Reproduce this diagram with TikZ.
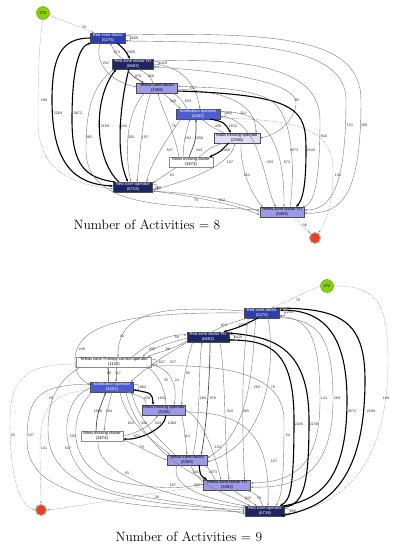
\documentclass[tikz,border=0pt]{standalone}
\usepackage{fontspec}
\newfontfamily\nf{Liberation Sans}
\usetikzlibrary{arrows.meta,calc}
\definecolor{cNavy}{HTML}{1D2662}
\definecolor{cBlue}{HTML}{2C40A8}
\definecolor{cNotif}{HTML}{4C5CD2}
\definecolor{cPurp}{HTML}{9C9AE4}
\definecolor{cLav}{HTML}{DEDCF6}
\definecolor{cGreen}{HTML}{8BD000}
\definecolor{cRed}{HTML}{E8421E}
\definecolor{cEdge}{HTML}{7A7A7A}
\tikzset{
 bx/.style={rectangle, draw=black!70, line width=0.3pt, minimum height=9.6pt, inner xsep=1pt, inner ysep=0.3pt, align=center, font=\nf\fontsize{4.1}{4.5}\selectfont},
 nNavy/.style={bx, fill=cNavy, text=white},
 nBlue/.style={bx, fill=cBlue, text=white},
 nNotif/.style={bx, fill=cNotif, text=white},
 nPurp/.style={bx, fill=cPurp, text=black},
 nLav/.style={bx, fill=cLav, text=black},
 nWhite/.style={bx, fill=white, draw=black!45, text=black},
 startc/.style={circle, fill=cGreen, draw=green!40!black!70, line width=0.4pt, minimum size=13pt, inner sep=0pt, font=\nf\fontsize{3.9}{4}\selectfont},
 endc/.style={circle, fill=cRed, draw=black!30, line width=1pt, minimum size=11pt, inner sep=0pt},
 eg/.style={draw=cEdge, line width=0.4pt, -{Latex[length=2.4pt,width=1.8pt]}},
 em/.style={draw=black!70, line width=0.7pt, -{Latex[length=2.6pt,width=2.1pt]}},
 ek/.style={draw=black, line width=1.1pt, -{Latex[length=3pt,width=2.6pt]}},
 ed/.style={draw=black!45, line width=0.4pt, dash pattern=on 1pt off 1pt, -{Latex[length=2.4pt,width=1.8pt]}},
 lbl/.style={font=\nf\fontsize{3.6}{4}\selectfont, inner sep=0pt, text=black!85},
 ttl/.style={font=\fontsize{13.5}{16}\selectfont, inner sep=0pt},
}
\begin{document}
\begin{tikzpicture}[x=1pt,y=-1pt]
\useasboundingbox (0,0) rectangle (401,550);
%================ TOP GRAPH ================
\node[startc] (s1) at (43,13) {272};
\node[nBlue, minimum width=35pt] (rzd1) at (108,38) {Red zone doctor\\(5275)};
\node[nNavy, minimum width=41pt] (fd1) at (133,64) {Red zone doctor FD\\(6683)};
\node[nPurp, minimum width=41pt] (yzd1) at (157,88) {Yellow zone doctor\\(3359)};
\node[nNotif, minimum width=44pt] (nt1) at (198,114) {Notification operator\\(4452)};
\node[nLav, minimum width=46pt] (mmo1) at (237,138) {Mass missing operator\\(2336)};
\node[nWhite, minimum width=44pt] (mmd1) at (191,162) {Mass missing doctor\\(1674)};
\node[nNavy, minimum width=39pt] (rzo1) at (133,187) {Red zone operator\\(6719)};
\node[nPurp, minimum width=44pt] (yfd1) at (282,212) {Yellow zone doctor FD\\(3493)};
\node[endc] (e1) at (315,238) {};
\node[ttl] (t1) at (147,225) {Number of Activities = 8};

% start / end
\draw[ed] (s1) .. controls (62,20) and (80,27) .. ($(rzd1.north west)+(4,0)$);
\draw[ed] (s1.south) .. controls (39,40) and (38,80) .. (38,120) .. controls (38,170) and (70,184) .. ($(rzo1.west)+(0,2)$);
\draw[ed] ($(nt1.east)+(0,4)$) .. controls (290,120) and (333,125) .. (333,170) .. controls (333,205) and (326,222) .. (e1);
\draw[ed] ($(yfd1.south)+(12,0)$) .. controls (302,225) .. (e1);
% self loops
\draw[eg] ($(rzd1.east)+(0,-2)$) .. controls +(7,-3) and +(7,3) .. ($(rzd1.east)+(0,2)$);
\draw[eg] ($(fd1.east)+(0,-2)$) .. controls +(7,-3) and +(7,3) .. ($(fd1.east)+(0,2)$);
\draw[eg] ($(nt1.east)+(0,-2)$) .. controls +(7,-3) and +(7,3) .. ($(nt1.east)+(0,2)$);
\draw[eg] ($(rzo1.east)+(0,-2)$) .. controls +(7,-3) and +(7,3) .. ($(rzo1.east)+(0,2)$);
% red zone
\draw[ek] (rzd1.west) .. controls (62,38) and (52,55) .. (52,100) .. controls (52,165) and (75,184) .. ($(rzo1.west)+(0,-1)$);
\draw[ek] ($(rzo1.north west)+(2,0)$) .. controls (85,178) and (72,165) .. (72,120) .. controls (72,65) and (80,46) .. ($(rzd1.south west)+(1,0)$);
\draw[eg] ($(fd1.north)+(-10,0)$) .. controls (116,54) .. ($(rzd1.south)+(2,0)$);
\draw[ek] ($(rzd1.south)+(9,0)$) .. controls (125,50) .. ($(fd1.north)+(-3,0)$);
\draw[ek] ($(fd1.south)+(-4,0)$) .. controls (122,95) and (114,150) .. ($(rzo1.north)+(-5,0)$);
\draw[ek] ($(rzo1.north)+(-14,0)$) .. controls (95,160) and (92,100) .. ($(fd1.south west)+(4,0)$);
\draw[eg] ($(rzd1.south)+(-8,0)$) .. controls (96,55) and (100,78) .. ($(yzd1.west)+(0,-1)$);
\draw[eg] ($(fd1.south west)+(2,0)$) .. controls (92,85) and (86,110) .. (86,150) .. controls (86,212) and (180,205) .. ($(yfd1.west)+(0,-2)$);
\draw[em] ($(fd1.south)+(-6,0)$) .. controls (132,76) .. ($(yzd1.north)+(-13,0)$);
\draw[eg] ($(yzd1.north)+(-4,0)$) .. controls (150,76) .. ($(fd1.south)+(6,0)$);
\draw[eg] ($(yzd1.south)+(-12,0)$) .. controls (127,110) and (124,150) .. ($(rzo1.north)+(-2,0)$);
\draw[eg] ($(yzd1.south)+(-6,0)$) .. controls (142,115) and (140,155) .. ($(rzo1.north)+(4,0)$);
\draw[eg] (fd1.east) .. controls (182,66) and (196,85) .. ($(nt1.north)+(2,0)$);
\draw[eg] ($(fd1.east)+(0,3)$) .. controls (240,72) and (300,85) .. (296,105) .. controls (292,125) and (275,135) .. (mmo1.east);
\draw[eg] ($(fd1.east)+(0,-3)$) .. controls (250,58) and (320,68) .. (320,120) .. controls (320,190) and (312,205) .. ($(yfd1.north east)+(-2,0)$);
\draw[eg] ($(rzd1.east)+(0,3)$) .. controls (250,42) and (346,45) .. (346,100) .. controls (346,190) and (330,210) .. ($(yfd1.east)+(0,-2)$);
\draw[eg] ($(rzd1.east)+(0,-3)$) .. controls (280,32) and (361,38) .. (361,100) .. controls (361,200) and (340,214) .. ($(yfd1.east)+(0,1)$);
% middle
\draw[eg] ($(yzd1.south)+(6,0)$) .. controls (172,100) .. ($(nt1.north west)+(5,0)$);
\draw[eg] ($(nt1.north west)+(11,0)$) .. controls (182,100) .. ($(yzd1.south east)+(-4,0)$);
\draw[eg] ($(mmo1.north)+(-13,0)$) .. controls (210,126) .. ($(nt1.south)+(4,0)$);
\draw[ek] ($(nt1.south)+(12,0)$) .. controls (224,122) .. ($(mmo1.north)+(-6,0)$);
\draw[eg] ($(mmd1.north)+(8,0)$) .. controls (210,148) .. ($(mmo1.south)+(-14,0)$);
\draw[ek] ($(mmo1.south)+(-8,0)$) .. controls (220,152) .. ($(mmd1.north east)+(-4,0)$);
\draw[eg] ($(mmd1.north)+(-8,0)$) .. controls (184,140) .. ($(nt1.south)+(-8,0)$);
\draw[em] ($(mmd1.north)+(-2,0)$) .. controls (196,140) .. ($(nt1.south)+(-2,0)$);
\draw[eg] ($(mmd1.north)+(-12,0)$) .. controls (174,130) and (162,110) .. ($(yzd1.south)+(1,0)$);
\draw[eg] ($(nt1.south)+(-17,0)$) .. controls (166,140) and (150,165) .. ($(rzo1.north east)+(-6,0)$);
\draw[eg] ($(mmd1.south)+(-14,0)$) .. controls (165,175) .. ($(rzo1.east)+(0,-4)$);
\draw[eg] ($(mmo1.south)+(-2,0)$) .. controls (232,165) and (190,180) .. ($(rzo1.east)+(0,3)$);
\draw[eg] ($(mmo1.south)+(4,0)$) .. controls (240,170) and (252,195) .. ($(yfd1.north west)+(3,0)$);
\draw[eg] ($(yzd1.east)+(0,1)$) .. controls (230,92) and (255,105) .. ($(mmo1.north east)+(-4,0)$);
\draw[eg] ($(nt1.east)+(0,2)$) .. controls (262,120) and (264,185) .. ($(yfd1.north)+(-6,0)$);
\draw[eg] ($(nt1.east)+(0,-2)$) .. controls (284,108) and (284,180) .. ($(yfd1.north)+(2,0)$);
\draw[ek] ($(yzd1.east)+(0,3)$) .. controls (300,95) and (306,110) .. (306,150) .. controls (306,190) and (302,200) .. ($(yfd1.north)+(14,0)$);
\draw[eg] ($(yfd1.north)+(8,0)$) .. controls (294,180) and (296,115) .. (270,100) .. controls (244,86) and (200,88) .. ($(yzd1.east)+(0,-2)$);
\draw[eg] ($(rzo1.south east)+(0,-1)$) .. controls (200,197) and (240,206) .. ($(yfd1.west)+(0,3)$);
\draw[eg] ($(yfd1.west)+(0,0)$) .. controls (240,202) and (190,192) .. ($(rzo1.east)+(0,4.5)$);
% labels top
\node[lbl] (a01) at (84,27) {76};
\node[lbl] (a02) at (44,100) {189};
\node[lbl] (a03) at (134,38) {2269};
\node[lbl] (a04) at (58,113) {2269};
\node[lbl] (a05) at (78,113) {3672};
\node[lbl] (a06) at (117,52) {674};
\node[lbl] (a07) at (131,52) {2305};
\node[lbl] (a08) at (163,63) {6429};
\node[lbl] (a09) at (106,63) {252};
\node[lbl] (a10) at (138,76) {976};
\node[lbl] (a11) at (151,76) {266};
\node[lbl] (a12) at (105,126) {2158};
\node[lbl] (a13) at (123,126) {2245};
\node[lbl] (a14) at (89,137) {465};
\node[lbl] (a15) at (131,137) {205};
\node[lbl] (a16) at (145,137) {197};
\node[lbl] (a17) at (193,88) {537};
\node[lbl] (a18) at (173,101) {340};
\node[lbl] (a19) at (188,101) {633};
\node[lbl] (a20) at (229,113) {883};
\node[lbl] (a21) at (218,126) {439};
\node[lbl] (a22) at (233,126) {1632};
\node[lbl] (a23) at (199,150) {343};
\node[lbl] (a24) at (226,150) {1466};
\node[lbl] (a25) at (188,138) {104};
\node[lbl] (a26) at (199,138) {1058};
\node[lbl] (a27) at (174,126) {75};
\node[lbl] (a28) at (170,150) {547};
\node[lbl] (a29) at (172,175) {63};
\node[lbl] (a30) at (230,162) {107};
\node[lbl] (a31) at (247,175) {152};
\node[lbl] (a32) at (243,113) {114};
\node[lbl] (a33) at (270,162) {293};
\node[lbl] (a34) at (287,162) {872};
\node[lbl] (a35) at (294,150) {1073};
\node[lbl] (a36) at (311,150) {2415};
\node[lbl] (a37) at (324,136) {910};
\node[lbl] (a38) at (350,125) {131};
\node[lbl] (a39) at (364,125) {269};
\node[lbl] (a40) at (338,175) {131};
\node[lbl] (a41) at (305,225) {36};
\node[lbl] (a42) at (196,200) {79};
\node[lbl] (a43) at (222,200) {642};
\node[lbl] (a44) at (158,188) {890};
\node[lbl] (a45) at (297,100) {95};

%================ BOTTOM GRAPH ================
\node[startc] (s2) at (327,286) {272};
\node[nBlue, minimum width=35pt] (rzd2) at (262,313) {Red zone doctor\\(5275)};
\node[nNavy, minimum width=42pt] (fd2) at (208,337) {Red zone doctor FD\\(6683)};
\node[nWhite, minimum width=75pt] (tc2) at (114,362) {Yellow zone Therapy control operator\\(1120)};
\node[nNotif, minimum width=43pt] (nt2) at (112,387) {Notification operator\\(4452)};
\node[nPurp, minimum width=42pt] (mmo2) at (164,410) {Mass missing operator\\(2336)};
\node[nWhite, minimum width=42pt] (mmd2) at (102,436) {Mass missing doctor\\(1674)};
\node[nPurp, minimum width=40pt] (yzd2) at (187,460) {Yellow zone doctor\\(3359)};
\node[nPurp, minimum width=47pt] (yfd2) at (227,485) {Yellow zone doctor FD\\(3493)};
\node[nNavy, minimum width=39pt] (rzo2) at (265,511) {Red zone operator\\(6719)};
\node[endc] (e2) at (41,510) {};
\node[ttl] (t2) at (189,537) {Number of Activities = 9};

% start / end
\draw[ed] (s2.west) .. controls (305,292) and (290,300) .. ($(rzd2.north east)+(-8,0)$);
\draw[ed] (s2.east) .. controls (375,286) and (388,300) .. (388,360) .. controls (388,470) and (340,505) .. ($(rzo2.east)+(0,3.5)$);
\draw[ed] ($(tc2.west)+(0,2)$) .. controls (30,364) and (10,375) .. (10,420) .. controls (10,480) and (20,505) .. (e2.west);
\draw[ed] ($(nt2.west)+(0,3)$) .. controls (50,392) and (40,410) .. (40,450) .. controls (40,480) and (41,490) .. (e2.north);
\draw[ed] ($(yfd2.west)+(0,2)$) .. controls (150,492) and (90,505) .. (e2.east);
% self loops
\draw[eg] ($(rzd2.east)+(0,-2)$) .. controls +(7,-3) and +(7,3) .. ($(rzd2.east)+(0,2)$);
\draw[eg] ($(fd2.east)+(0,-2)$) .. controls +(7,-3) and +(7,3) .. ($(fd2.east)+(0,2)$);
\draw[eg] ($(tc2.east)+(0,-2)$) .. controls +(7,-3) and +(7,3) .. ($(tc2.east)+(0,2)$);
\draw[eg] ($(nt2.east)+(0,-2)$) .. controls +(7,-3) and +(7,3) .. ($(nt2.east)+(0,2)$);
\draw[eg] ($(rzo2.east)+(0,-2)$) .. controls +(7,-3) and +(7,3) .. ($(rzo2.east)+(0,2)$);
% red zone
\draw[eg] ($(fd2.north)+(4,0)$) .. controls (225,325) .. ($(rzd2.south west)+(3,0)$);
\draw[ek] ($(rzd2.south)+(-4,0)$) .. controls (240,327) .. ($(fd2.north east)+(-6,0)$);
\draw[ek] ($(rzd2.north east)+(-4,0)$) .. controls (340,308) and (365,320) .. (365,380) .. controls (365,490) and (320,508) .. ($(rzo2.south east)+(-4,0)$);
\draw[ek] ($(rzo2.north east)+(-2,0)$) .. controls (320,500) and (347,480) .. (347,400) .. controls (347,330) and (320,310) .. ($(rzd2.north east)+(0,2)$);
\draw[eg] ($(rzd2.east)+(0,3.5)$) .. controls (305,318) and (320,330) .. (320,400) .. controls (320,470) and (290,482) .. ($(yfd2.east)+(0,-2)$);
\draw[eg] ($(rzd2.east)+(0,4.5)$) .. controls (318,320) and (333,335) .. (333,400) .. controls (333,480) and (290,488) .. ($(yfd2.east)+(0,2)$);
\draw[ek] ($(fd2.east)+(0,3)$) .. controls (270,340) and (294,350) .. (294,420) .. controls (294,490) and (290,500) .. ($(rzo2.north east)+(-5,0)$);
\draw[ek] ($(rzo2.east)+(0,-4)$) .. controls (305,505) and (309,480) .. (309,420) .. controls (309,345) and (270,337) .. ($(fd2.north east)+(0,1)$);
\draw[eg] ($(rzd2.south)+(-6,0)$) .. controls (252,350) and (255,430) .. ($(yzd2.east)+(0,-2)$);
\draw[eg] ($(rzd2.south)+(6,0)$) .. controls (274,350) and (275,440) .. ($(yzd2.east)+(0,2)$);
\draw[eg] ($(fd2.south)+(12,0)$) .. controls (226,380) and (224,440) .. ($(yfd2.north)+(2,0)$);
\draw[eg] ($(rzd2.south west)+(4,0)$) .. controls (240,370) and (243,450) .. ($(yfd2.north east)+(-6,0)$);
\draw[eg] ($(yzd2.north)+(6,0)$) .. controls (201,420) and (198,370) .. ($(fd2.south)+(-6,0)$);
\draw[em] ($(fd2.south)+(2,0)$) .. controls (210,380) and (206,430) .. ($(yzd2.north east)+(-6,0)$);
\draw[eg] ($(fd2.south west)+(6,0)$) .. controls (185,365) and (182,390) .. ($(mmo2.north east)+(-4,0)$);
\draw[eg] ($(fd2.south west)+(1,0)$) .. controls (170,352) and (145,368) .. ($(nt2.north east)+(-3,0)$);
\draw[eg] ($(tc2.north)+(18,0)$) .. controls (150,342) and (170,334) .. ($(fd2.west)+(0,-2)$);
\draw[eg] ($(fd2.west)+(0,1)$) .. controls (170,343) and (150,348) .. ($(tc2.north east)+(-9,0)$);
\draw[eg] ($(fd2.west)+(0,4)$) .. controls (172,350) and (155,353) .. ($(tc2.north east)+(-4,0)$);
\draw[eg] ($(rzd2.west)+(0,-2)$) .. controls (170,306) and (118,308) .. ($(tc2.north)+(4,0)$);
\draw[eg] ($(rzd2.west)+(0,0)$) .. controls (150,312) and (75,318) .. (75,360) .. controls (75,375) and (82,380) .. ($(nt2.west)+(0,-2)$);
\draw[eg] ($(tc2.east)+(0,4)$) .. controls (200,365) and (284,365) .. (284,420) .. controls (284,480) and (282,495) .. ($(rzo2.north east)+(-9,0)$);
% middle
\draw[eg] ($(nt2.north)+(-4,0)$) .. controls (108,375) .. ($(tc2.south)+(-6,0)$);
\draw[eg] ($(tc2.south)+(2,0)$) .. controls (116,375) .. ($(nt2.north)+(4,0)$);
\draw[eg] ($(mmo2.north)+(2,0)$) .. controls (165,385) and (155,372) .. ($(tc2.south east)+(-5,0)$);
\draw[eg] ($(tc2.east)+(0,3)$) .. controls (170,368) and (178,385) .. ($(mmo2.north)+(10,0)$);
\draw[eg] ($(mmo2.north west)+(4,0)$) .. controls (145,398) .. ($(nt2.south east)+(-6,0)$);
\draw[ek] ($(nt2.east)+(0,3)$) .. controls (152,393) .. ($(mmo2.north west)+(11,0)$);
\draw[em] ($(mmd2.north)+(-6,0)$) .. controls (97,415) .. ($(nt2.south)+(-6,0)$);
\draw[eg] ($(nt2.south)+(0,0)$) .. controls (106,415) .. ($(mmd2.north)+(2,0)$);
\draw[eg] ($(nt2.south)+(8,0)$) .. controls (126,425) and (160,445) .. ($(yzd2.north west)+(3,0)$);
\draw[eg] ($(yzd2.north west)+(8,0)$) .. controls (160,440) and (138,420) .. ($(nt2.south east)+(-2,0)$);
\draw[eg] (mmd2.east) .. controls (140,432) and (150,426) .. ($(mmo2.south)+(-6,0)$);
\draw[ek] ($(mmo2.south)+(2,0)$) .. controls (166,428) and (140,440) .. ($(mmd2.east)+(0,3)$);
\draw[eg] ($(nt2.south west)+(2,0)$) .. controls (68,415) and (65,470) .. (120,482) .. controls (160,490) and (185,488) .. ($(yfd2.west)+(0,-1)$);
\draw[eg] ($(nt2.west)+(0,1)$) .. controls (55,400) and (55,480) .. (120,493) .. controls (180,503) and (220,508) .. ($(rzo2.west)+(0,3)$);
\draw[eg] ($(nt2.south east)+(-8,0)$) .. controls (138,440) and (180,468) .. ($(yfd2.north west)+(2,0)$);
\draw[eg] ($(nt2.west)+(0,-3)$) .. controls (40,385) and (27,395) .. (27,440) .. controls (27,495) and (100,506) .. ($(rzo2.west)+(0,1)$);
\draw[eg] ($(tc2.south west)+(4,0)$) .. controls (60,380) and (48,395) .. (48,430) .. controls (48,490) and (120,503) .. ($(rzo2.west)+(0,-1)$);
\draw[eg] ($(mmo2.south east)+(-4,0)$) .. controls (185,430) and (186,445) .. (yzd2.north);
\draw[eg] ($(mmd2.east)+(0,4)$) .. controls (140,446) and (155,456) .. (yzd2.west);
\draw[eg] (mmo2.east) .. controls (205,420) and (216,460) .. ($(yfd2.north)+(-6,0)$);
\draw[eg] ($(mmo2.east)+(0,2)$) .. controls (250,412) and (270,440) .. ($(rzo2.north)+(3,0)$);
\draw[eg] ($(mmd2.south)+(-4,0)$) .. controls (95,470) and (150,495) .. ($(rzo2.west)+(0,-3)$);
\draw[eg] ($(yzd2.south)+(-10,0)$) .. controls (170,485) and (200,498) .. ($(rzo2.north west)+(1,0)$);
\draw[eg] ($(yzd2.south)+(4,0)$) .. controls (195,485) and (230,495) .. ($(rzo2.north west)+(5,0)$);
\draw[ek] ($(yzd2.south east)+(-8,0)$) .. controls (200,475) .. ($(yfd2.north west)+(4,0)$);
\draw[eg] ($(yfd2.north west)+(12,0)$) .. controls (210,470) .. ($(yzd2.south east)+(-2,0)$);
\draw[eg] ($(yfd2.south)+(6,0)$) .. controls (245,498) .. ($(rzo2.north)+(-8,0)$);
\draw[eg] ($(rzo2.north)+(-2,0)$) .. controls (258,495) .. ($(yfd2.south east)+(-4,0)$);
% labels bottom
\node[lbl] (b01) at (298,300) {76};
\node[lbl] (b02) at (386,398) {189};
\node[lbl] (b03) at (289,312) {2269};
\node[lbl] (b04) at (224,325) {674};
\node[lbl] (b05) at (243,325) {2305};
\node[lbl] (b06) at (238,337) {6429};
\node[lbl] (b07) at (371,411) {2269};
\node[lbl] (b08) at (352,411) {3672};
\node[lbl] (b09) at (324,398) {131};
\node[lbl] (b10) at (337,398) {269};
\node[lbl] (b11) at (299,424) {2245};
\node[lbl] (b12) at (314,424) {2158};
\node[lbl] (b13) at (257,387) {252};
\node[lbl] (b14) at (273,387) {70};
\node[lbl] (b15) at (230,411) {310};
\node[lbl] (b16) at (246,411) {465};
\node[lbl] (b17) at (203,398) {266};
\node[lbl] (b18) at (213,398) {976};
\node[lbl] (b19) at (188,373) {85};
\node[lbl] (b20) at (173,362) {537};
\node[lbl] (b21) at (177,337) {59};
\node[lbl] (b22) at (152,349) {205};
\node[lbl] (b23) at (168,349) {88};
\node[lbl] (b24) at (122,336) {44};
\node[lbl] (b25) at (82,349) {249};
\node[lbl] (b26) at (162,362) {647};
\node[lbl] (b27) at (109,373) {69};
\node[lbl] (b28) at (118,373) {117};
\node[lbl] (b29) at (143,387) {883};
\node[lbl] (b30) at (166,380) {35};
\node[lbl] (b31) at (177,380) {24};
\node[lbl] (b32) at (147,398) {439};
\node[lbl] (b33) at (162,398) {1632};
\node[lbl] (b34) at (98,411) {1058};
\node[lbl] (b35) at (109,411) {104};
\node[lbl] (b36) at (131,423) {633};
\node[lbl] (b37) at (144,423) {340};
\node[lbl] (b38) at (158,423) {343};
\node[lbl] (b39) at (172,423) {1466};
\node[lbl] (b40) at (73,436) {293};
\node[lbl] (b41) at (68,448) {547};
\node[lbl] (b42) at (137,436) {872};
\node[lbl] (b43) at (187,436) {114};
\node[lbl] (b44) at (142,447) {75};
\node[lbl] (b45) at (218,447) {152};
\node[lbl] (b46) at (274,461) {107};
\node[lbl] (b47) at (288,435) {54};
\node[lbl] (b48) at (51,398) {20};
\node[lbl] (b49) at (13,435) {25};
\node[lbl] (b50) at (31,435) {157};
\node[lbl] (b51) at (44,448) {131};
\node[lbl] (b52) at (127,473) {63};
\node[lbl] (b53) at (173,485) {197};
\node[lbl] (b54) at (197,485) {205};
\node[lbl] (b55) at (197,472) {2415};
\node[lbl] (b56) at (213,472) {1073};
\node[lbl] (b57) at (157,497) {36};
\node[lbl] (b58) at (248,498) {642};
\node[lbl] (b59) at (259,498) {79};
\node[lbl] (b60) at (293,511) {890};
\end{tikzpicture}
\end{document}
